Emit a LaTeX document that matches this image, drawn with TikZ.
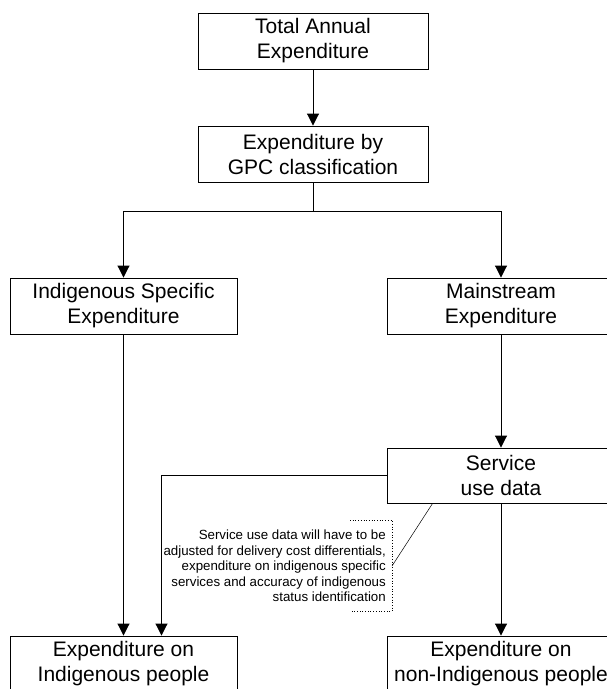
\documentclass[tikz,border=0pt]{standalone}
\usepackage{fontspec}
\setmainfont{Liberation Sans}
\usetikzlibrary{arrows.meta,calc}
\tikzset{
  box/.style={draw=black, line width=0.9pt, rectangle, align=center, inner sep=0pt,
    font=\fontsize{21}{25}\selectfont},
  arr/.style={draw=black, line width=0.9pt, -{Triangle[width=12pt,length=12pt]}},
  ln/.style={draw=black, line width=0.9pt},
  bracket/.style={draw=black, line width=0.7pt, dotted},
  thin/.style={draw=black, line width=0.5pt},
  notetext/.style={align=right, inner sep=0pt, font=\fontsize{13.3}{15.5}\selectfont}
}
\begin{document}
\begin{tikzpicture}[x=1pt,y=-1pt]
\useasboundingbox (0,0) rectangle (607,689);
\clip (0,0) rectangle (607,689);
\node[box, minimum width=230pt, minimum height=56pt] (tot) at (313,41) {Total Annual\\Expenditure};
\node[box, minimum width=230pt, minimum height=56pt] (gpc) at (313,154) {Expenditure by\\GPC classification};
\node[box, minimum width=227pt, minimum height=56pt] (isp) at (123.5,306) {Indigenous Specific\\Expenditure};
\node[box, minimum width=228pt, minimum height=56pt] (main) at (501,306) {Mainstream\\Expenditure};
\node[box, minimum width=228pt, minimum height=55pt] (svc) at (501,475.5) {Service\\use data};
\node[box, minimum width=227pt, minimum height=56pt] (ind) at (123.5,664) {Expenditure on\\Indigenous people};
\node[box, minimum width=228pt, minimum height=56pt] (non) at (501,664) {Expenditure on\\non-Indigenous people};

\node[notetext, anchor=east] (note) at (386,566) {Service use data will have to be\\adjusted for delivery cost differentials,\\expenditure on indigenous specific\\services and accuracy of indigenous\\status identification};

\coordinate (j) at ($(gpc.south)+(0,29)$);
\coordinate (ind2) at ($(ind.north)+(38,0)$);
\coordinate (btop) at (350,520);
\coordinate (bt) at (392,520);
\coordinate (bm) at (392,566);
\coordinate (bb) at (392,611);
\coordinate (bbot) at (350,611);
\coordinate (slant) at ($(svc.south west)+(46,0)$);

\draw[arr] (tot) -- (gpc);
\draw[ln] (gpc.south) -- (j);
\draw[arr] (j) -| (isp.north);
\draw[arr] (j) -| (main.north);
\draw[arr] (isp) -- (ind);
\draw[arr] (main) -- (svc);
\draw[arr] (svc) -- (non);
\draw[arr] (svc.west) -| (ind2);

\draw[bracket] (btop) -- (bt) -- (bb) -- (bbot);
\draw[thin] (slant) -- (bm);
\end{tikzpicture}
\end{document}
